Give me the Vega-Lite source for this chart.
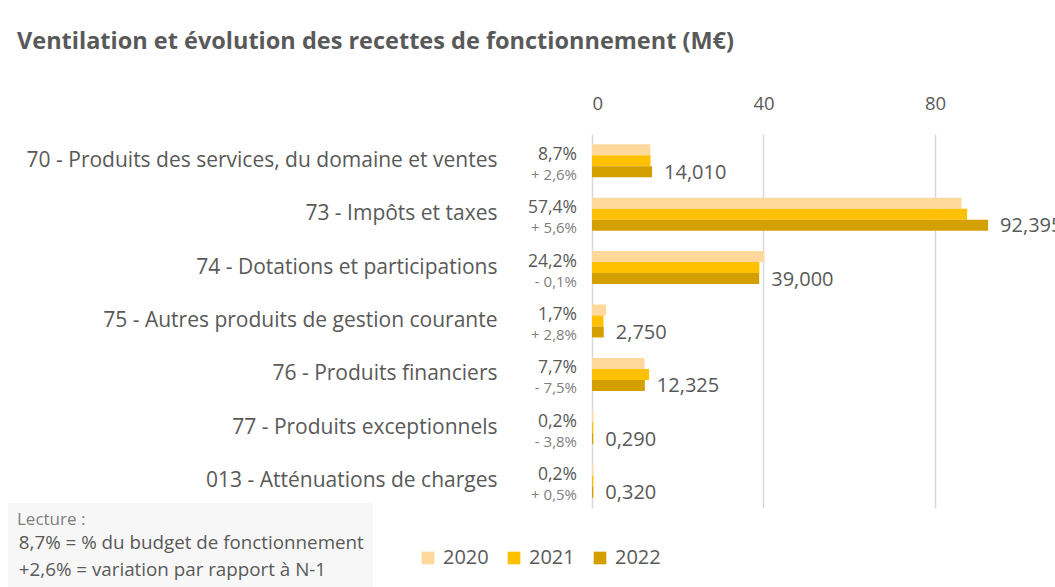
{
  "$schema": "https://vega.github.io/schema/vega-lite/v6.json",
  "autosize": {"type": "none"},
  "padding": {"left": 592, "top": 134, "right": 0, "bottom": 79},
  "width": 463,
  "height": 374,
  "background": "white",
  "config": {
    "font": "Open Sans",
    "view": {"stroke": null},
    "locale": {"number": {"decimal": ",", "thousands": " ", "grouping": [3], "currency": ["", " €"]}}
  },
  "title": {
    "text": "Ventilation et évolution des recettes de fonctionnement (M€)",
    "anchor": "start",
    "frame": "group",
    "dx": -575,
    "offset": 41,
    "fontSize": 23.5,
    "fontWeight": "bold",
    "color": "#595959",
    "font": "Open Sans"
  },
  "datasets": {
    "bars": [
      {"cat": "70 - Produits des services, du domaine et ventes", "year": "2020", "value": 13.6},
      {"cat": "70 - Produits des services, du domaine et ventes", "year": "2021", "value": 13.65},
      {"cat": "70 - Produits des services, du domaine et ventes", "year": "2022", "value": 14.01},
      {"cat": "73 - Impôts et taxes", "year": "2020", "value": 86.2},
      {"cat": "73 - Impôts et taxes", "year": "2021", "value": 87.5},
      {"cat": "73 - Impôts et taxes", "year": "2022", "value": 92.395},
      {"cat": "74 - Dotations et participations", "year": "2020", "value": 40.2},
      {"cat": "74 - Dotations et participations", "year": "2021", "value": 39.04},
      {"cat": "74 - Dotations et participations", "year": "2022", "value": 39.0},
      {"cat": "75 - Autres produits de gestion courante", "year": "2020", "value": 3.3},
      {"cat": "75 - Autres produits de gestion courante", "year": "2021", "value": 2.675},
      {"cat": "75 - Autres produits de gestion courante", "year": "2022", "value": 2.75},
      {"cat": "76 - Produits financiers", "year": "2020", "value": 12.25},
      {"cat": "76 - Produits financiers", "year": "2021", "value": 13.32},
      {"cat": "76 - Produits financiers", "year": "2022", "value": 12.325},
      {"cat": "77 - Produits exceptionnels", "year": "2020", "value": 0.3},
      {"cat": "77 - Produits exceptionnels", "year": "2021", "value": 0.301},
      {"cat": "77 - Produits exceptionnels", "year": "2022", "value": 0.29},
      {"cat": "013 - Atténuations de charges", "year": "2020", "value": 0.3},
      {"cat": "013 - Atténuations de charges", "year": "2021", "value": 0.318},
      {"cat": "013 - Atténuations de charges", "year": "2022", "value": 0.32}
    ],
    "cats": [
      {"cat": "70 - Produits des services, du domaine et ventes", "part": "8,7%", "variation": "+ 2,6%"},
      {"cat": "73 - Impôts et taxes", "part": "57,4%", "variation": "+ 5,6%"},
      {"cat": "74 - Dotations et participations", "part": "24,2%", "variation": "- 0,1%"},
      {"cat": "75 - Autres produits de gestion courante", "part": "1,7%", "variation": "+ 2,8%"},
      {"cat": "76 - Produits financiers", "part": "7,7%", "variation": "- 7,5%"},
      {"cat": "77 - Produits exceptionnels", "part": "0,2%", "variation": "- 3,8%"},
      {"cat": "013 - Atténuations de charges", "part": "0,2%", "variation": "+ 0,5%"}
    ]
  },
  "encoding": {
    "y": {
      "field": "cat",
      "type": "nominal",
      "scale": {
        "domain": [
          "70 - Produits des services, du domaine et ventes",
          "73 - Impôts et taxes",
          "74 - Dotations et participations",
          "75 - Autres produits de gestion courante",
          "76 - Produits financiers",
          "77 - Produits exceptionnels",
          "013 - Atténuations de charges"
        ],
        "paddingInner": 0.382,
        "paddingOuter": 0.191
      },
      "axis": {
        "title": null,
        "orient": "left",
        "ticks": false,
        "domain": false,
        "labelPadding": 95,
        "labelFontSize": 21,
        "labelColor": "#595959",
        "labelLimit": 600
      }
    }
  },
  "layer": [
    {
      "data": {"name": "bars"},
      "mark": {"type": "bar"},
      "encoding": {
        "x": {
          "field": "value",
          "type": "quantitative",
          "scale": {"domain": [0, 108], "nice": false},
          "axis": {
            "orient": "top",
            "values": [0, 40, 80],
            "title": null,
            "grid": true,
            "gridColor": "#d9d9d9",
            "gridWidth": 1.5,
            "domain": false,
            "ticks": false,
            "labelFontSize": 18.5,
            "labelColor": "#595959",
            "labelPadding": 21,
            "format": "d"
          }
        },
        "yOffset": {
          "field": "year",
          "type": "nominal",
          "scale": {"domain": ["2020", "2021", "2022"], "paddingInner": 0, "paddingOuter": 0}
        },
        "color": {
          "field": "year",
          "type": "nominal",
          "scale": {"domain": ["2020", "2021", "2022"], "range": ["#FFD89B", "#FFC000", "#D4A000"]},
          "legend": {
            "orient": "none",
            "direction": "horizontal",
            "legendX": -174,
            "legendY": 414,
            "title": null,
            "symbolType": "square",
            "symbolSize": 160,
            "symbolStrokeWidth": 0,
            "labelFontSize": 20,
            "labelColor": "#595959",
            "labelOffset": 5,
            "columnPadding": 15
          }
        },
        "strokeDash": {
          "datum": "8,7% = % du budget de fonctionnement",
          "type": "nominal",
          "scale": {"domain": ["8,7% = % du budget de fonctionnement", "+2,6% = variation par rapport à N-1"]},
          "legend": {
            "orient": "none",
            "direction": "vertical",
            "legendX": -584,
            "legendY": 369,
            "title": "Lecture :",
            "titleFontSize": 17,
            "titleFontWeight": "normal",
            "titleColor": "#7f7f7f",
            "titlePadding": 5,
            "fillColor": "#f7f7f7",
            "padding": 9,
            "symbolType": "square",
            "symbolSize": 0,
            "symbolOpacity": 0,
            "symbolStrokeWidth": 0,
            "labelOffset": -17,
            "labelLimit": 0,
            "labelFontSize": 18.8,
            "labelColor": "#595959",
            "rowPadding": 7,
            "encode": {
              "labels": {
                "update": {
                  "fontSize": {"signal": "datum.index === 0 ? 18.8 : 15"},
                  "fill": {"signal": "datum.index === 0 ? '#595959' : '#7f7f7f'"}
                }
              }
            }
          }
        }
      }
    },
    {
      "data": {"name": "bars"},
      "transform": [{"filter": "datum.year === '2022'"}],
      "mark": {"type": "text", "align": "left", "baseline": "middle", "dx": 12, "dy": 12, "fontSize": 20, "color": "#595959"},
      "encoding": {
        "x": {"field": "value", "type": "quantitative"},
        "text": {"field": "value", "type": "quantitative", "format": ".3f"}
      }
    },
    {
      "data": {"name": "cats"},
      "mark": {"type": "text", "align": "right", "baseline": "middle", "dx": -15, "dy": -6, "fontSize": 17.5, "color": "#595959"},
      "encoding": {
        "x": {"datum": 0, "type": "quantitative"},
        "text": {"field": "part", "type": "nominal"}
      }
    },
    {
      "data": {"name": "cats"},
      "mark": {"type": "text", "align": "right", "baseline": "middle", "dx": -15, "dy": 14, "fontSize": 15, "color": "#808080"},
      "encoding": {
        "x": {"datum": 0, "type": "quantitative"},
        "text": {"field": "variation", "type": "nominal"}
      }
    }
  ]
}
